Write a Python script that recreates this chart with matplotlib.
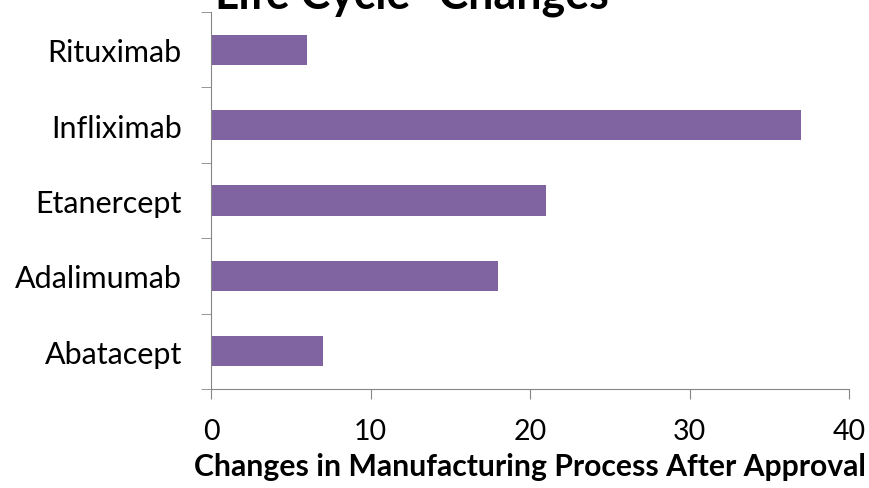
import matplotlib
matplotlib.use("Agg")
import matplotlib.pyplot as plt
import numpy as np

drugs = ["Abatacept", "Adalimumab", "Etanercept", "Infliximab", "Rituximab"]
changes = [7, 18, 21, 37, 6]
x_ticks = [0, 10, 20, 30, 40]

plt.rcParams["font.family"] = ["Lato", "DejaVu Sans"]

fig = plt.figure(figsize=(8.69, 4.89), dpi=100)
ax = fig.add_axes([211 / 869, 1 - 390 / 489, (849 - 211) / 869, (390 - 13) / 489])

pos = np.arange(len(drugs))
ax.barh(pos, changes, height=0.4, color="#8064A2")

ax.set_xlim(0, 40)
ax.set_ylim(-0.5, len(drugs) - 0.5)
ax.set_xticks(x_ticks)
ax.set_xticklabels([str(t) for t in x_ticks], fontsize=20.5)
ax.set_yticks(pos)
ax.set_yticklabels(drugs, fontsize=22)
ax.tick_params(axis="y", length=0, pad=21)
ax.set_yticks(np.arange(-0.5, len(drugs)), minor=True)
ax.tick_params(axis="y", which="minor", length=7, color="#868686", direction="out")
ax.tick_params(axis="x", length=7, color="#868686", pad=14)

for side in ["top", "right"]:
    ax.spines[side].set_visible(False)
for side in ["left", "bottom"]:
    ax.spines[side].set_color("#868686")

ax.set_xlabel("Changes in Manufacturing Process After Approval", fontsize=21.7,
              fontweight="bold", labelpad=6)

fig.text(0.474, 1 - 10 / 489, "Life Cycle\u201d Changes", fontsize=32.3,
         fontweight="bold", ha="center", va="baseline")

fig.savefig("out.png", dpi=100)
